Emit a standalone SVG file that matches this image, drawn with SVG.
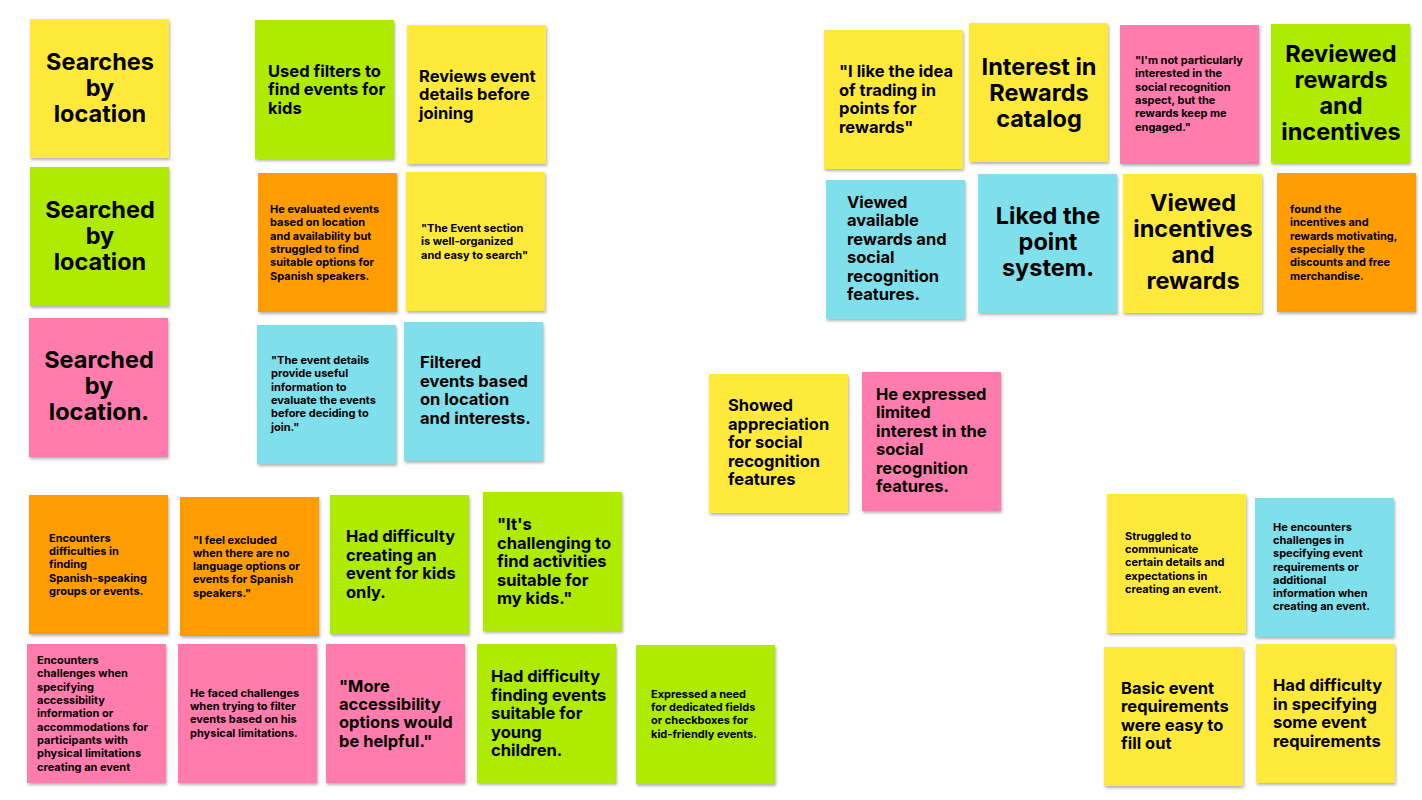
<svg xmlns="http://www.w3.org/2000/svg" width="1422" height="800" viewBox="0 0 1422 800">
<defs><filter id="sh" x="-5%" y="-5%" width="115%" height="115%"><feDropShadow dx="1" dy="2" stdDeviation="1.5" flood-color="#000" flood-opacity="0.3"/></filter></defs>
<style>
rect{filter:url(#sh);width:139px;height:139px}
text{font-family:Inter,"Liberation Sans",sans-serif;font-weight:700;fill:#000}
.y{fill:#FFE93B}.g{fill:#AEEB00}.o{fill:#FF9D00}.p{fill:#FF7BAC}.b{fill:#7FDFEB}
.xl{font-size:23.5px;text-anchor:middle}.l{font-size:16.5px}.s{font-size:11px}
</style>
<rect width="1422" height="800" style="fill:#fff;filter:none;width:1422px;height:800px"/>
<g id="n1"><rect class="y" x="30" y="19"/><text class="xl"><tspan x="100" y="70">Searches</tspan><tspan x="100" y="96">by</tspan><tspan x="100" y="122">location</tspan></text></g>
<g id="n2"><rect class="g" x="30" y="167"/><text class="xl"><tspan x="100" y="218">Searched</tspan><tspan x="100" y="244">by</tspan><tspan x="100" y="270">location</tspan></text></g>
<g id="n3"><rect class="p" x="29" y="318"/><text class="xl"><tspan x="99" y="368">Searched</tspan><tspan x="99" y="394">by</tspan><tspan x="99" y="420">location.</tspan></text></g>
<g id="n4"><rect class="g" x="255" y="20"/><text class="l"><tspan x="268" y="77">Used filters to</tspan><tspan x="268" y="95">find events for</tspan><tspan x="268" y="114">kids</tspan></text></g>
<g id="n5"><rect class="y" x="407" y="25"/><text class="l"><tspan x="419" y="82">Reviews event</tspan><tspan x="419" y="100">details before</tspan><tspan x="419" y="119">joining</tspan></text></g>
<g id="n6"><rect class="o" x="258" y="173"/><text class="s"><tspan x="270" y="213">He evaluated events</tspan><tspan x="270" y="226">based on location</tspan><tspan x="270" y="240">and availability but</tspan><tspan x="270" y="253">struggled to find</tspan><tspan x="270" y="266">suitable options for</tspan><tspan x="270" y="280">Spanish speakers.</tspan></text></g>
<g id="n7"><rect class="y" x="406" y="172"/><text class="s"><tspan x="421" y="232">"The Event section</tspan><tspan x="421" y="245">is well-organized</tspan><tspan x="421" y="259">and easy to search"</tspan></text></g>
<g id="n8"><rect class="b" x="257" y="325"/><text class="s"><tspan x="271" y="364">"The event details</tspan><tspan x="271" y="377">provide useful</tspan><tspan x="271" y="391">information to</tspan><tspan x="271" y="404">evaluate the events</tspan><tspan x="271" y="417">before deciding to</tspan><tspan x="271" y="431">join."</tspan></text></g>
<g id="n9"><rect class="b" x="404" y="322"/><text class="l"><tspan x="420" y="368">Filtered</tspan><tspan x="420" y="387">events based</tspan><tspan x="420" y="405">on location</tspan><tspan x="420" y="424">and interests.</tspan></text></g>
<g id="n10"><rect class="o" x="29" y="495"/><text class="s"><tspan x="49" y="542">Encounters</tspan><tspan x="49" y="555">difficulties in</tspan><tspan x="49" y="568">finding</tspan><tspan x="49" y="582">Spanish-speaking</tspan><tspan x="49" y="595">groups or events.</tspan></text></g>
<g id="n11"><rect class="o" x="180" y="497"/><text class="s"><tspan x="193" y="544">"I feel excluded</tspan><tspan x="193" y="557">when there are no</tspan><tspan x="193" y="570">language options or</tspan><tspan x="193" y="583">events for Spanish</tspan><tspan x="193" y="597">speakers."</tspan></text></g>
<g id="n12"><rect class="g" x="330" y="495"/><text class="l"><tspan x="346" y="542">Had difficulty</tspan><tspan x="346" y="561">creating an</tspan><tspan x="346" y="579">event for kids</tspan><tspan x="346" y="598">only.</tspan></text></g>
<g id="n13"><rect class="g" x="483" y="492"/><text class="l"><tspan x="497" y="530">"It's</tspan><tspan x="497" y="549">challenging to</tspan><tspan x="497" y="567">find activities</tspan><tspan x="497" y="586">suitable for</tspan><tspan x="497" y="604">my kids."</tspan></text></g>
<g id="n14"><rect class="p" x="27" y="644"/><text class="s"><tspan x="37" y="664">Encounters</tspan><tspan x="37" y="677">challenges when</tspan><tspan x="37" y="691">specifying</tspan><tspan x="37" y="704">accessibility</tspan><tspan x="37" y="717">information or</tspan><tspan x="37" y="731">accommodations for</tspan><tspan x="37" y="744">participants with</tspan><tspan x="37" y="757">physical limitations</tspan><tspan x="37" y="771">creating an event</tspan></text></g>
<g id="n15"><rect class="p" x="178" y="644"/><text class="s"><tspan x="190" y="697">He faced challenges</tspan><tspan x="190" y="710">when trying to filter</tspan><tspan x="190" y="723">events based on his</tspan><tspan x="190" y="737">physical limitations.</tspan></text></g>
<g id="n16"><rect class="p" x="326" y="644"/><text class="l"><tspan x="339" y="692">"More</tspan><tspan x="339" y="710">accessibility</tspan><tspan x="339" y="728">options would</tspan><tspan x="339" y="747">be helpful."</tspan></text></g>
<g id="n17"><rect class="g" x="477" y="644"/><text class="l"><tspan x="491" y="682">Had difficulty</tspan><tspan x="491" y="701">finding events</tspan><tspan x="491" y="719">suitable for</tspan><tspan x="491" y="738">young</tspan><tspan x="491" y="756">children.</tspan></text></g>
<g id="n18"><rect class="g" x="636" y="645"/><text class="s"><tspan x="651" y="698">Expressed a need</tspan><tspan x="651" y="711">for dedicated fields</tspan><tspan x="651" y="724">or checkboxes for</tspan><tspan x="651" y="738">kid-friendly events.</tspan></text></g>
<g id="n19"><rect class="y" x="709" y="374"/><text class="l"><tspan x="728" y="411">Showed</tspan><tspan x="728" y="430">appreciation</tspan><tspan x="728" y="448">for social</tspan><tspan x="728" y="467">recognition</tspan><tspan x="728" y="485">features</tspan></text></g>
<g id="n20"><rect class="p" x="862" y="372"/><text class="l"><tspan x="876" y="400">He expressed</tspan><tspan x="876" y="418">limited</tspan><tspan x="876" y="437">interest in the</tspan><tspan x="876" y="455">social</tspan><tspan x="876" y="474">recognition</tspan><tspan x="876" y="492">features.</tspan></text></g>
<g id="n21"><rect class="y" x="1107" y="494"/><text class="s"><tspan x="1125" y="540">Struggled to</tspan><tspan x="1125" y="553">communicate</tspan><tspan x="1125" y="566">certain details and</tspan><tspan x="1125" y="580">expectations in</tspan><tspan x="1125" y="593">creating an event.</tspan></text></g>
<g id="n22"><rect class="b" x="1255" y="498"/><text class="s"><tspan x="1273" y="531">He encounters</tspan><tspan x="1273" y="544">challenges in</tspan><tspan x="1273" y="557">specifying event</tspan><tspan x="1273" y="571">requirements or</tspan><tspan x="1273" y="584">additional</tspan><tspan x="1273" y="597">information when</tspan><tspan x="1273" y="610">creating an event.</tspan></text></g>
<g id="n23"><rect class="y" x="1104" y="647"/><text class="l"><tspan x="1121" y="694">Basic event</tspan><tspan x="1121" y="712">requirements</tspan><tspan x="1121" y="731">were easy to</tspan><tspan x="1121" y="749">fill out</tspan></text></g>
<g id="n24"><rect class="y" x="1256" y="644"/><text class="l"><tspan x="1273" y="691">Had difficulty</tspan><tspan x="1273" y="710">in specifying</tspan><tspan x="1273" y="728">some event</tspan><tspan x="1273" y="747">requirements</tspan></text></g>
<g id="n25"><rect class="y" x="824" y="30"/><text class="l"><tspan x="839" y="77">"I like the idea</tspan><tspan x="839" y="96">of trading in</tspan><tspan x="839" y="114">points for</tspan><tspan x="839" y="133">rewards"</tspan></text></g>
<g id="n26"><rect class="y" x="969" y="23"/><text class="xl"><tspan x="1039" y="75">Interest in</tspan><tspan x="1039" y="101">Rewards</tspan><tspan x="1039" y="127">catalog</tspan></text></g>
<g id="n27"><rect class="p" x="1120" y="25"/><text class="s"><tspan x="1135" y="64">"I'm not particularly</tspan><tspan x="1135" y="77">interested in the</tspan><tspan x="1135" y="91">social recognition</tspan><tspan x="1135" y="104">aspect, but the</tspan><tspan x="1135" y="117">rewards keep me</tspan><tspan x="1135" y="131">engaged."</tspan></text></g>
<g id="n28"><rect class="g" x="1271" y="24"/><text class="xl"><tspan x="1341" y="62">Reviewed</tspan><tspan x="1341" y="88">rewards</tspan><tspan x="1341" y="114">and</tspan><tspan x="1341" y="140">incentives</tspan></text></g>
<g id="n29"><rect class="b" x="826" y="180"/><text class="l"><tspan x="847" y="208">Viewed</tspan><tspan x="847" y="226">available</tspan><tspan x="847" y="245">rewards and</tspan><tspan x="847" y="263">social</tspan><tspan x="847" y="282">recognition</tspan><tspan x="847" y="300">features.</tspan></text></g>
<g id="n30"><rect class="b" x="978" y="174"/><text class="xl"><tspan x="1048" y="224">Liked the</tspan><tspan x="1048" y="250">point</tspan><tspan x="1048" y="276">system.</tspan></text></g>
<g id="n31"><rect class="y" x="1123" y="174"/><text class="xl"><tspan x="1193" y="211">Viewed</tspan><tspan x="1193" y="237">incentives</tspan><tspan x="1193" y="263">and</tspan><tspan x="1193" y="289">rewards</tspan></text></g>
<g id="n32"><rect class="o" x="1277" y="173"/><text class="s"><tspan x="1290" y="213">found the</tspan><tspan x="1290" y="226">incentives and</tspan><tspan x="1290" y="240">rewards motivating,</tspan><tspan x="1290" y="253">especially the</tspan><tspan x="1290" y="266">discounts and free</tspan><tspan x="1290" y="280">merchandise.</tspan></text></g>
<g id="connectors"/>
</svg>
